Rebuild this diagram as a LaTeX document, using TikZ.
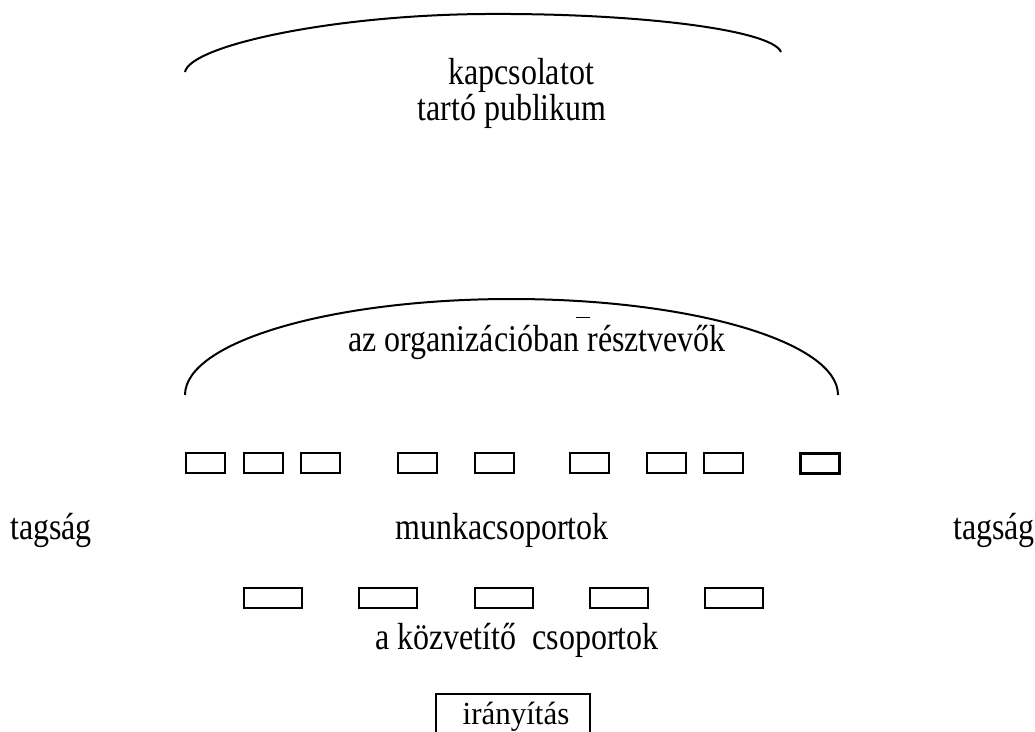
\documentclass[tikz,border=0pt]{standalone}
\usepackage{fontspec}
\setmainfont{Liberation Serif}
\newcommand{\tallt}[1]{\scalebox{1}[1.18]{#1}}
\newcommand{\midt}[1]{\scalebox{1}[1.04]{#1}}
\begin{document}
\begin{tikzpicture}[x=1pt,y=-1pt,
  lbl/.style={font=\fontsize{32}{37}\selectfont, inner sep=0pt, anchor=base},
  box/.style={draw, line width=1.5pt, minimum width=39pt, minimum height=20pt, inner sep=0pt, anchor=north west},
  wbox/.style={box, minimum width=58pt},
  arcline/.style={line width=2pt}]
\useasboundingbox (0,0) rectangle (1035,731);
\clip (0,0) rectangle (1035,731);
% top arc
\draw[arcline] (185,72) .. controls (190,46) and (330,15) .. (485,14) .. controls (640,13) and (772,30) .. (781,52);
\node[lbl] (kap) at (521,84) {\tallt{kapcsolatot}};
\node[lbl] (pub) at (512,120) {\tallt{tartó publikum}};
% middle arc
\draw[arcline] (185,395) arc[start angle=180, end angle=360, x radius=326.5, y radius=96];
\node[lbl] (org) at (537,351) {\tallt{az organizációban résztvevők}};
\draw[line width=1pt] (576,317) -- (590,317);
% row 1
\node[box] (r1) at (185,452) {};
\node[box] (r2) at (243,452) {};
\node[box] (r3) at (300,452) {};
\node[box] (r4) at (397,452) {};
\node[box] (r5) at (474,452) {};
\node[box] (r6) at (569,452) {};
\node[box] (r7) at (646,452) {};
\node[box] (r8) at (703,452) {};
\node[box, line width=2.5pt] (r9) at (799,452) {};
% middle labels
\node[lbl] (tl) at (51,539) {\tallt{tagság}};
\node[lbl] (mcs) at (502,539) {\tallt{munkacsoportok}};
\node[lbl] (tr) at (994,539) {\tallt{tagság}};
% row 2
\node[wbox] (s1) at (243,587) {};
\node[wbox] (s2) at (358,587) {};
\node[wbox] (s3) at (474,587) {};
\node[wbox] (s4) at (589,587) {};
\node[wbox] (s5) at (704,587) {};
\node[lbl] (kozv) at (517,649) {\tallt{a közvetítő\ \ csoportok}};
% control box
\node[lbl, font=\fontsize{31}{36}\selectfont] (ir) at (516,724) {\midt{irányítás}};
\node[draw, line width=2pt, anchor=north west, minimum width=154pt, minimum height=60pt, inner sep=0pt] (irbox) at (435,693) {};
\end{tikzpicture}
\end{document}
